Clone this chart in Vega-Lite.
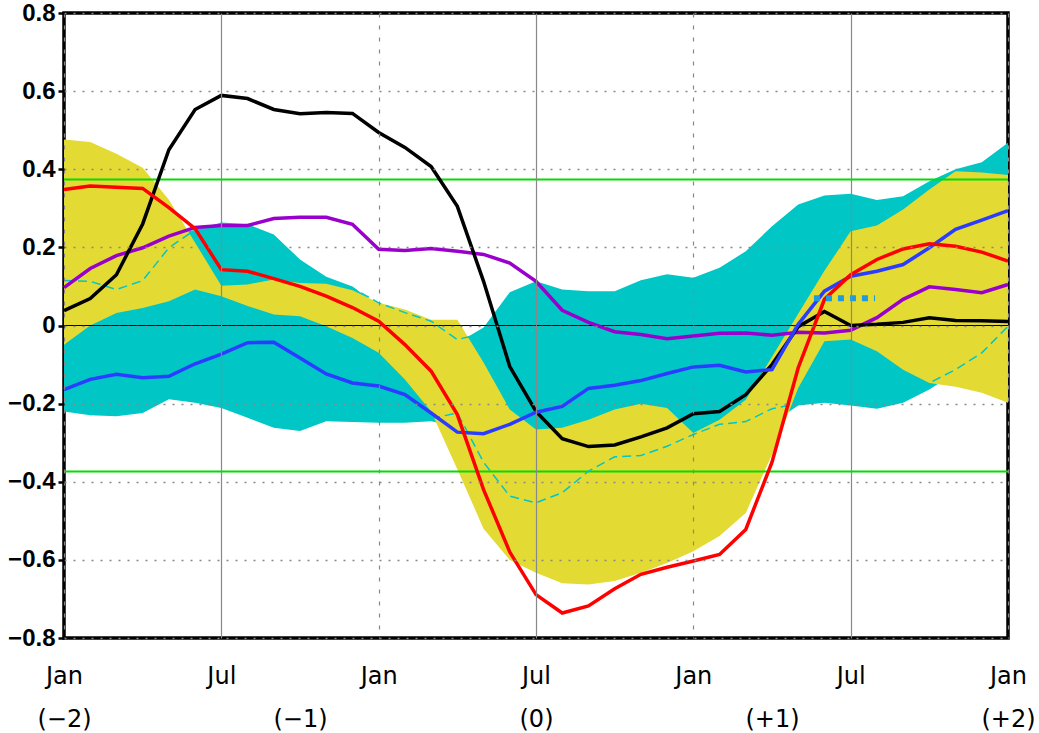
{
  "$schema": "https://vega.github.io/schema/vega-lite/v6.json",
  "width": 944,
  "height": 625,
  "autosize": "none",
  "padding": {"left": 64, "top": 13, "right": 31, "bottom": 95},
  "background": "white",
  "config": {"view": {"stroke": "black", "strokeWidth": 3.5}},
  "datasets": {
    "main": [
      {"m": 0, "ylo": -0.049, "yhi": 0.476, "clo": -0.22, "chi": 0.15, "black": 0.038, "red": 0.348, "purple": 0.097, "blue": -0.164, "dA": 0.115},
      {"m": 1, "ylo": 0.0, "yhi": 0.47, "clo": -0.23, "chi": 0.17, "black": 0.069, "red": 0.357, "purple": 0.146, "blue": -0.138, "dA": 0.113},
      {"m": 2, "ylo": 0.032, "yhi": 0.44, "clo": -0.232, "chi": 0.19, "black": 0.13, "red": 0.354, "purple": 0.179, "blue": -0.125, "dA": 0.092},
      {"m": 3, "ylo": 0.045, "yhi": 0.404, "clo": -0.224, "chi": 0.21, "black": 0.26, "red": 0.351, "purple": 0.199, "blue": -0.134, "dA": 0.115},
      {"m": 4, "ylo": 0.062, "yhi": 0.322, "clo": -0.189, "chi": 0.23, "black": 0.45, "red": 0.302, "purple": 0.229, "blue": -0.13, "dA": 0.199},
      {"m": 5, "ylo": 0.092, "yhi": 0.212, "clo": -0.198, "chi": 0.245, "black": 0.553, "red": 0.248, "purple": 0.251, "blue": -0.098, "dA": 0.245},
      {"m": 6, "ylo": 0.075, "yhi": 0.102, "clo": -0.211, "chi": 0.264, "black": 0.589, "red": 0.143, "purple": 0.256, "blue": -0.073, "dA": 0.25},
      {"m": 7, "ylo": 0.05, "yhi": 0.105, "clo": -0.236, "chi": 0.259, "black": 0.581, "red": 0.139, "purple": 0.256, "blue": -0.044, "dA": 0.22},
      {"m": 8, "ylo": 0.028, "yhi": 0.118, "clo": -0.262, "chi": 0.233, "black": 0.553, "red": 0.12, "purple": 0.274, "blue": -0.043, "dA": 0.18},
      {"m": 9, "ylo": 0.024, "yhi": 0.109, "clo": -0.27, "chi": 0.169, "black": 0.542, "red": 0.1, "purple": 0.277, "blue": -0.083, "dA": 0.145},
      {"m": 10, "ylo": -0.002, "yhi": 0.107, "clo": -0.245, "chi": 0.125, "black": 0.545, "red": 0.075, "purple": 0.277, "blue": -0.124, "dA": 0.117},
      {"m": 11, "ylo": -0.032, "yhi": 0.09, "clo": -0.247, "chi": 0.1, "black": 0.543, "red": 0.046, "purple": 0.259, "blue": -0.147, "dA": 0.096},
      {"m": 12, "ylo": -0.07, "yhi": 0.058, "clo": -0.249, "chi": 0.05, "black": 0.494, "red": 0.011, "purple": 0.195, "blue": -0.155, "dA": 0.058},
      {"m": 13, "ylo": -0.138, "yhi": 0.041, "clo": -0.249, "chi": 0.03, "black": 0.456, "red": -0.049, "purple": 0.192, "blue": -0.177, "dA": 0.033},
      {"m": 14, "ylo": -0.22, "yhi": 0.015, "clo": -0.245, "chi": 0.0, "black": 0.407, "red": -0.117, "purple": 0.197, "blue": -0.224, "dA": 0.011, "dB": -0.238},
      {"m": 15, "ylo": -0.368, "yhi": 0.015, "clo": -0.26, "chi": -0.045, "black": 0.305, "red": -0.228, "purple": 0.19, "blue": -0.273, "dA": -0.036, "dB": -0.224},
      {"m": 16, "ylo": -0.52, "yhi": -0.095, "clo": -0.3, "chi": -0.005, "black": 0.113, "red": -0.42, "purple": 0.182, "blue": -0.277, "dA": -0.02, "dB": -0.35},
      {"m": 17, "ylo": -0.6, "yhi": -0.215, "clo": -0.3, "chi": 0.085, "black": -0.105, "red": -0.58, "purple": 0.16, "blue": -0.253, "dB": -0.437},
      {"m": 18, "ylo": -0.633, "yhi": -0.266, "clo": -0.3, "chi": 0.113, "black": -0.22, "red": -0.689, "purple": 0.113, "blue": -0.222, "dB": -0.454},
      {"m": 19, "ylo": -0.66, "yhi": -0.262, "clo": -0.3, "chi": 0.092, "black": -0.29, "red": -0.736, "purple": 0.039, "blue": -0.207, "dB": -0.428},
      {"m": 20, "ylo": -0.663, "yhi": -0.241, "clo": -0.3, "chi": 0.088, "black": -0.31, "red": -0.718, "purple": 0.008, "blue": -0.161, "dB": -0.373},
      {"m": 21, "ylo": -0.654, "yhi": -0.215, "clo": -0.3, "chi": 0.088, "black": -0.306, "red": -0.674, "purple": -0.016, "blue": -0.153, "dB": -0.336},
      {"m": 22, "ylo": -0.633, "yhi": -0.2, "clo": -0.3, "chi": 0.116, "black": -0.285, "red": -0.637, "purple": -0.023, "blue": -0.141, "dB": -0.333},
      {"m": 23, "ylo": -0.608, "yhi": -0.211, "clo": -0.3, "chi": 0.131, "black": -0.262, "red": -0.619, "purple": -0.034, "blue": -0.123, "dB": -0.309},
      {"m": 24, "ylo": -0.578, "yhi": -0.275, "clo": -0.3, "chi": 0.122, "black": -0.226, "red": -0.603, "purple": -0.027, "blue": -0.106, "dB": -0.279},
      {"m": 25, "ylo": -0.539, "yhi": -0.241, "clo": -0.3, "chi": 0.148, "black": -0.22, "red": -0.586, "purple": -0.02, "blue": -0.102, "dB": -0.253},
      {"m": 26, "ylo": -0.48, "yhi": -0.19, "clo": -0.25, "chi": 0.19, "black": -0.177, "red": -0.522, "purple": -0.019, "blue": -0.119, "dB": -0.246},
      {"m": 27, "ylo": -0.33, "yhi": -0.08, "clo": -0.25, "chi": 0.254, "black": -0.1, "red": -0.35, "purple": -0.025, "blue": -0.113, "dB": -0.213},
      {"m": 28, "ylo": -0.16, "yhi": 0.03, "clo": -0.205, "chi": 0.31, "black": -0.003, "red": -0.108, "purple": -0.017, "blue": 0.003, "dB": -0.2},
      {"m": 29, "ylo": -0.04, "yhi": 0.14, "clo": -0.198, "chi": 0.333, "black": 0.036, "red": 0.067, "purple": -0.019, "blue": 0.088, "dB": -0.19},
      {"m": 30, "ylo": -0.036, "yhi": 0.241, "clo": -0.205, "chi": 0.337, "black": 0.0, "red": 0.13, "purple": -0.012, "blue": 0.126, "dB": -0.18},
      {"m": 31, "ylo": -0.066, "yhi": 0.256, "clo": -0.213, "chi": 0.321, "black": 0.003, "red": 0.169, "purple": 0.02, "blue": 0.139, "dB": -0.17},
      {"m": 32, "ylo": -0.113, "yhi": 0.297, "clo": -0.198, "chi": 0.331, "black": 0.008, "red": 0.196, "purple": 0.067, "blue": 0.156, "dB": -0.16},
      {"m": 33, "ylo": -0.147, "yhi": 0.348, "clo": -0.164, "chi": 0.369, "black": 0.02, "red": 0.209, "purple": 0.099, "blue": 0.199, "dB": -0.147},
      {"m": 34, "ylo": -0.157, "yhi": 0.395, "clo": -0.12, "chi": 0.4, "black": 0.013, "red": 0.203, "purple": 0.092, "blue": 0.246, "dB": -0.113},
      {"m": 35, "ylo": -0.172, "yhi": 0.392, "clo": -0.09, "chi": 0.418, "black": 0.012, "red": 0.188, "purple": 0.084, "blue": 0.27, "dB": -0.07},
      {"m": 36, "ylo": -0.198, "yhi": 0.385, "clo": -0.06, "chi": 0.468, "black": 0.01, "red": 0.165, "purple": 0.105, "blue": 0.294, "dB": -0.002}
    ]
  },
  "resolve": {"axis": {"x": "independent"}},
  "layer": [
    {
      "data": {"name": "main"},
      "mark": {"type": "area", "color": "#00C6C6", "opacity": 1},
      "encoding": {
        "x": {"field": "m", "type": "quantitative", "title": null,
          "scale": {"domain": [0, 36], "nice": false, "zero": false},
          "axis": {"orient": "bottom", "values": [0, 6, 12, 18, 24, 30, 36],
            "labelExpr": "datum.value % 12 == 0 ? 'Jan' : 'Jul'",
            "domain": false, "ticks": false, "labelPadding": 26,
            "labelFont": "DejaVu Sans", "labelFontSize": 24, "labelColor": "#000",
            "labelOverlap": false, "labelFlush": false, "labelBaseline": "top", "labelDx": -3,
            "grid": true, "gridColor": "#888", "gridWidth": 1.2,
            "gridDash": {"condition": {"test": "datum.value % 12 == 6", "value": []}, "value": [4, 8]},
            "zindex": 1}},
        "y": {"field": "clo", "type": "quantitative", "title": null,
          "scale": {"domain": [-0.8, 0.8], "nice": false, "zero": false},
          "axis": {"values": [-0.8, -0.6, -0.4, -0.2, 0, 0.2, 0.4, 0.6, 0.8],
            "labelExpr": "datum.value == 0 ? '0' : format(datum.value, '.1f')",
            "domain": false, "tickSize": 6, "tickWidth": 2.5, "tickColor": "#000",
            "labelPadding": 3, "labelFont": "Liberation Sans Narrow, Liberation Sans", "labelFontWeight": "bold",
            "labelFontSize": 24, "labelColor": "#000", "labelOverlap": false, "labelFlush": false,
            "grid": true, "gridColor": "#888", "gridWidth": 1.5, "gridDash": [2, 7], "zindex": 1}},
        "y2": {"field": "chi"}
      }
    },
    {
      "data": {"name": "main"},
      "mark": {"type": "area", "color": "#E4DA34", "opacity": 1},
      "encoding": {
        "x": {"field": "m", "type": "quantitative", "title": null,
          "axis": {"orient": "bottom", "values": [0, 9, 18, 27, 36],
            "labelExpr": "datum.value == 0 ? '(−2)' : datum.value == 9 ? '(−1)' : datum.value == 18 ? '(0)' : datum.value == 27 ? '(+1)' : '(+2)'",
            "domain": false, "ticks": false, "grid": false, "labelPadding": 69,
            "labelFont": "DejaVu Sans", "labelFontSize": 24, "labelColor": "#000",
            "labelOverlap": false, "labelFlush": false, "labelBaseline": "top"}},
        "y": {"field": "ylo", "type": "quantitative", "title": null},
        "y2": {"field": "yhi"}
      }
    },
    {
      "data": {"values": [{"g": 0.374}, {"g": -0.374}]},
      "mark": {"type": "rule", "color": "#00DD00", "strokeWidth": 2},
      "encoding": {"y": {"field": "g", "type": "quantitative", "title": null}}
    },
    {
      "data": {"values": [{"g": 0}]},
      "mark": {"type": "rule", "color": "#000", "strokeWidth": 1.2},
      "encoding": {"y": {"field": "g", "type": "quantitative", "title": null}}
    },
    {
      "data": {"name": "main"},
      "mark": {"type": "line", "color": "#00C6C6", "strokeWidth": 1.5, "strokeDash": [9, 5]},
      "encoding": {
        "x": {"field": "m", "type": "quantitative", "title": null, "axis": null},
        "y": {"field": "dA", "type": "quantitative", "title": null}
      }
    },
    {
      "data": {"name": "main"},
      "mark": {"type": "line", "color": "#00C6C6", "strokeWidth": 1.5, "strokeDash": [9, 5]},
      "encoding": {
        "x": {"field": "m", "type": "quantitative", "title": null, "axis": null},
        "y": {"field": "dB", "type": "quantitative", "title": null}
      }
    },
    {
      "data": {"name": "main"},
      "mark": {"type": "line", "color": "#9900CC", "strokeWidth": 3.5},
      "encoding": {
        "x": {"field": "m", "type": "quantitative", "title": null, "axis": null},
        "y": {"field": "purple", "type": "quantitative", "title": null}
      }
    },
    {
      "data": {"name": "main"},
      "mark": {"type": "line", "color": "#000000", "strokeWidth": 3.5},
      "encoding": {
        "x": {"field": "m", "type": "quantitative", "title": null, "axis": null},
        "y": {"field": "black", "type": "quantitative", "title": null}
      }
    },
    {
      "data": {"name": "main"},
      "mark": {"type": "line", "color": "#2A3CFF", "strokeWidth": 3.5},
      "encoding": {
        "x": {"field": "m", "type": "quantitative", "title": null, "axis": null},
        "y": {"field": "blue", "type": "quantitative", "title": null}
      }
    },
    {
      "data": {"name": "main"},
      "mark": {"type": "line", "color": "#FF0000", "strokeWidth": 3.5},
      "encoding": {
        "x": {"field": "m", "type": "quantitative", "title": null, "axis": null},
        "y": {"field": "red", "type": "quantitative", "title": null}
      }
    },
    {
      "data": {"values": [{"m": 28.6, "v": 0.07}, {"m": 30.93, "v": 0.07}]},
      "mark": {"type": "line", "color": "#1E9BDC", "strokeWidth": 6, "strokeDash": [6, 6], "strokeCap": "butt"},
      "encoding": {
        "x": {"field": "m", "type": "quantitative", "title": null, "axis": null},
        "y": {"field": "v", "type": "quantitative", "title": null}
      }
    }
  ]
}
